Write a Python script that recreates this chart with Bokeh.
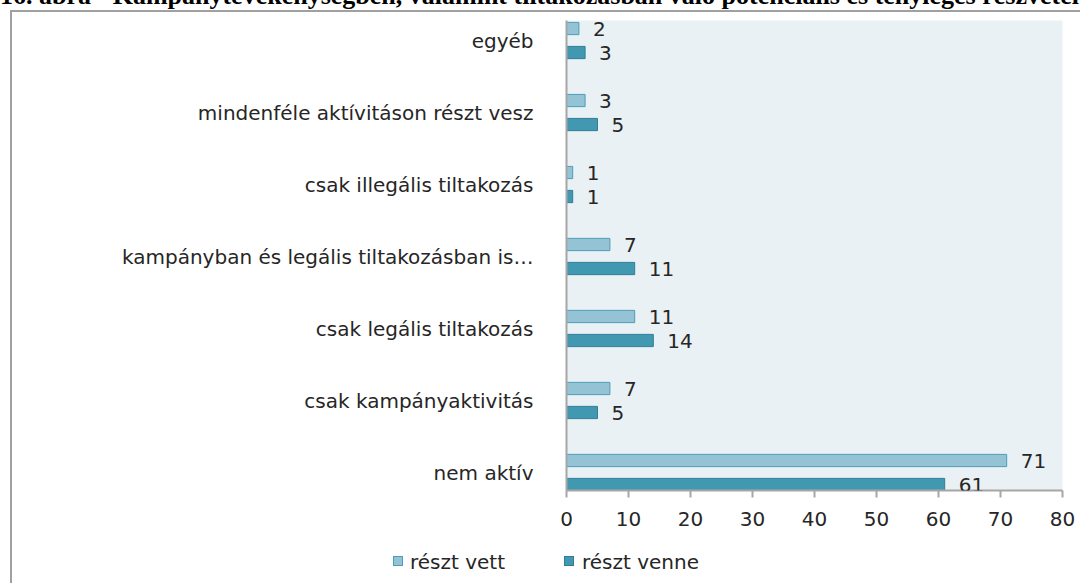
from bokeh.plotting import figure
from bokeh.models import Range1d, FixedTicker, LabelSet, ColumnDataSource, Div
from bokeh.layouts import column
from bokeh.core.properties import value
from bokeh.embed import file_html
from bokeh.resources import INLINE

# ---- data (top to bottom as in the picture) ----
title_text = ("16. ábra - Kampánytevékenységben, valamint tiltakozásban való "
              "potenciális és tényleges részvétel")
categories = [
    "egyéb",
    "mindenféle aktívitáson részt vesz",
    "csak illegális tiltakozás",
    "kampányban és legális tiltakozásban is…",
    "csak legális tiltakozás",
    "csak kampányaktivitás",
    "nem aktív",
]
reszt_vett = [2, 3, 1, 7, 11, 7, 71]
reszt_venne = [3, 5, 1, 11, 14, 5, 61]
x_ticks = [0, 10, 20, 30, 40, 50, 60, 70, 80]
series_names = ["részt vett", "részt venne"]

n = len(categories)
ypos = [n - 1 - i for i in range(n)]  # egyéb on top

FONT = "DejaVu Sans"
LIGHT_FILL, LIGHT_LINE = "#93C3D5", "#4E9DB6"
DARK_FILL, DARK_LINE = "#4298B0", "#2F7E98"
GRAY = "#A6A6A6"
TXT = "#262626"

# ---- main chart ----
p = figure(width=1068, height=533, output_backend="svg", toolbar_location=None,
           x_range=Range1d(0, 80), y_range=Range1d(-0.25, 6.278),
           min_border_left=554, min_border_right=18, min_border_top=8,
           min_border_bottom=55)
p.background_fill_color = "#EAF1F5"
p.border_fill_color = "white"
p.outline_line_color = None
p.xgrid.visible = False
p.ygrid.visible = False

off = 1.0 / 6.0
bh = 0.17
src_vett = ColumnDataSource(dict(y=[v + off for v in ypos], x=reszt_vett,
                                 t=[str(v) for v in reszt_vett]))
src_venne = ColumnDataSource(dict(y=[v - off for v in ypos], x=reszt_venne,
                                  t=[str(v) for v in reszt_venne]))

p.hbar(y="y", right="x", left=0, height=bh, source=src_vett,
       fill_color=LIGHT_FILL, line_color=LIGHT_LINE, line_width=1,
       legend_label=series_names[0])
p.hbar(y="y", right="x", left=0, height=bh, source=src_venne,
       fill_color=DARK_FILL, line_color=DARK_LINE, line_width=1,
       legend_label=series_names[1])
p.legend.visible = False  # legend is drawn in the strip below (outside the frame)

for s in (src_vett, src_venne):
    p.add_layout(LabelSet(x="x", y="y", text="t", source=s, x_offset=14,
                          text_align="left", text_baseline="middle",
                          text_font=value(FONT), text_font_size="20px",
                          text_color=TXT))

p.xaxis.ticker = FixedTicker(ticks=x_ticks)
p.xaxis.axis_line_color = GRAY
p.xaxis.axis_line_width = 2
p.xaxis.major_tick_line_color = GRAY
p.xaxis.major_tick_line_width = 2
p.xaxis.major_tick_out = 7
p.xaxis.major_tick_in = 0
p.xaxis.minor_tick_line_color = None
p.xaxis.major_label_standoff = 14
p.xaxis.major_label_text_font = FONT
p.xaxis.major_label_text_font_size = "20px"
p.xaxis.major_label_text_color = TXT

p.yaxis.ticker = FixedTicker(ticks=ypos)
p.yaxis.major_label_overrides = {yy: c for yy, c in zip(ypos, categories)}
p.yaxis.axis_line_color = GRAY
p.yaxis.axis_line_width = 2
p.yaxis.major_tick_line_color = None
p.yaxis.minor_tick_line_color = None
p.yaxis.major_label_standoff = 27
p.yaxis.major_label_text_font = FONT
p.yaxis.major_label_text_font_size = "20px"
p.yaxis.major_label_text_color = TXT

# ---- legend strip below the chart (HTML, so it can sit left of the frame) ----
def sw(left, fill, line):
    return ('<span style="position:absolute; left:%dpx; top:11px; width:10px; '
            'height:10px; background:%s; border:1px solid %s;"></span>'
            % (left, fill, line))

def lab(left, txt):
    return ('<span style="position:absolute; left:%dpx; top:7px; '
            'font-family:\'DejaVu Sans\'; font-size:20px; line-height:20px; '
            'color:%s; white-space:nowrap;">%s</span>' % (left, TXT, txt))

legend_html = ('<div style="position:relative; width:1068px; height:38px;">'
               + sw(381, LIGHT_FILL, LIGHT_LINE) + lab(398, series_names[0])
               + sw(552, DARK_FILL, DARK_LINE) + lab(570, series_names[1])
               + '</div>')
legend_div = Div(text=legend_html, width=1068, height=38, margin=0)

# ---- title sliver above the framed box (cut off in the reference) ----
title = Div(text=('<div style="position:relative; top:-17px; white-space:nowrap; '
                  'font-family:\'Liberation Serif\'; font-weight:bold; '
                  'font-size:26px; line-height:26px; color:#000;">'
                  + title_text + '</div>'),
            width=1080, height=10, margin=0,
            styles={"overflow": "hidden"})

body = column(p, legend_div, margin=(0, 0, 0, 10), spacing=0,
              styles={"border-left": "2px solid #A0A0A0",
                      "border-top": "2px solid #A0A0A0"})
root = column(title, body, spacing=0, margin=0)

open("out.html", "w").write(file_html(root, INLINE))
